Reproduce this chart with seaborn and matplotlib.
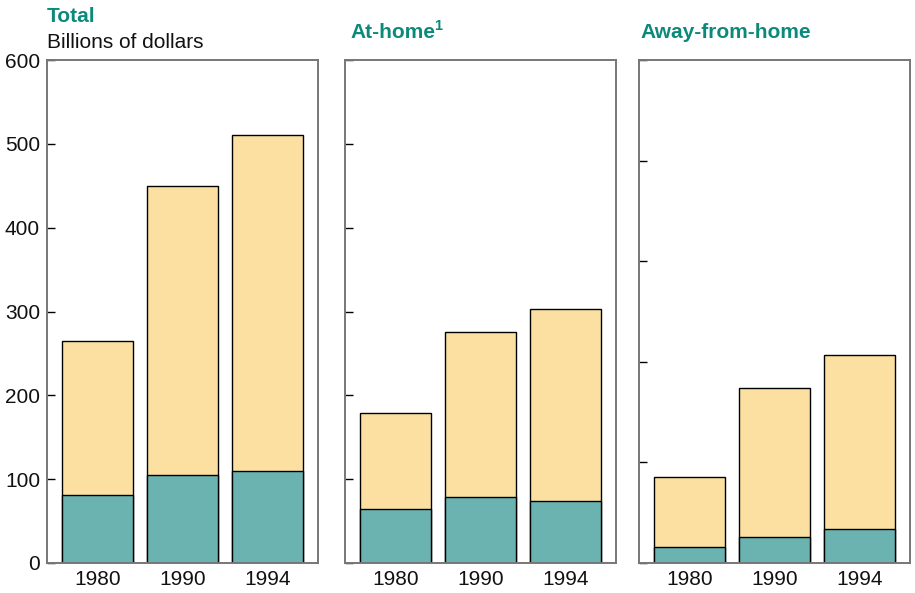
import matplotlib
matplotlib.use("Agg")
import matplotlib.pyplot as plt
import seaborn as sns
import pandas as pd

years = ["1980", "1990", "1994"]
total_all = [265, 450, 510]
total_farm = [81, 105, 110]
home_all = [179, 276, 303]
home_farm = [65, 79, 74]
away_all = [85, 174, 207]
away_farm = [16, 26, 34]

panel_titles = ["Total", "At-home", "Away-from-home"]
footnote_mark = "1"
yticks_main = [0, 100, 200, 300, 400, 500, 600]
yticks_away = [0, 100, 200, 300, 400, 500]

sns.set_theme(style="white")
plt.rcParams['font.family'] = ['Liberation Sans', 'DejaVu Sans']

TEAL = "#6ab3b0"
YELLOW = "#fbe0a2"
TITLE = "#0b8a7b"
SPINE = "#777777"
FS = 15

fig = plt.figure(figsize=(9.15, 5.93), dpi=100)
W, H = 915, 593
lefts = [47, 345, 639]
pw = 271
top, bottom = 60, 563

panels = [(total_all, total_farm, 600, yticks_main, True),
          (home_all, home_farm, 600, yticks_main, False),
          (away_all, away_farm, 500, yticks_away, False)]

for i, (allv, farm, ymax, yt, show_labels) in enumerate(panels):
    ax = fig.add_axes([lefts[i] / W, (H - bottom) / H, pw / W, (bottom - top) / H])
    df = pd.DataFrame({"year": years, "all": allv, "farm": farm})
    sns.barplot(data=df, x="year", y="all", color=YELLOW, width=0.835,
                edgecolor="black", linewidth=1.0, saturation=1, ax=ax)
    sns.barplot(data=df, x="year", y="farm", color=TEAL, width=0.835,
                edgecolor="black", linewidth=1.0, saturation=1, ax=ax)
    ax.set_xlim(-0.6, 2.6)
    ax.set_ylim(0, ymax)
    ax.set_yticks(yt)
    ax.set_xlabel("")
    ax.set_ylabel("")
    for s in ax.spines.values():
        s.set_color(SPINE)
        s.set_linewidth(1.4)
        s.set_visible(True)
    ax.tick_params(axis="y", direction="in", length=6, width=1, color="black",
                   labelsize=FS, pad=5, left=True)
    ax.tick_params(axis="x", length=0, labelsize=FS, pad=5)
    if not show_labels:
        ax.set_yticklabels([])
    for lab in ax.get_xticklabels() + ax.get_yticklabels():
        lab.set_color("#111111")

fig.text(47 / W, 1 - 16 / H, panel_titles[0], color=TITLE, fontsize=FS,
         fontweight="bold", ha="left", va="center")
fig.text(47 / W, 1 - 42 / H, "Billions of dollars", color="#111111", fontsize=FS,
         ha="left", va="center")
t_home = fig.text(350 / W, 1 - 32 / H, panel_titles[1], color=TITLE, fontsize=FS,
                  fontweight="bold", ha="left", va="center")
fig.text(640 / W, 1 - 32 / H, panel_titles[2], color=TITLE, fontsize=FS,
         fontweight="bold", ha="left", va="center")

fig.canvas.draw()
bb = t_home.get_window_extent(renderer=fig.canvas.get_renderer())
fig.text((bb.x1 - 1) / W, 1 - 26 / H, footnote_mark, color=TITLE, fontsize=10.5,
         fontweight="bold", ha="left", va="center")

fig.savefig("out.png", dpi=100)
